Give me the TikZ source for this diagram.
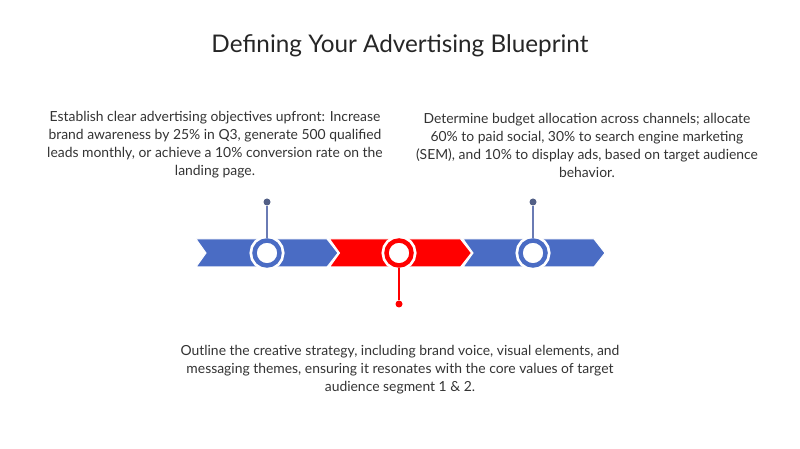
\documentclass[tikz,border=0pt]{standalone}
\usepackage{fontspec}
\setmainfont{Lato}
\usetikzlibrary{positioning}

\definecolor{bandblue}{HTML}{4A6CC4}
\definecolor{bandred}{HTML}{FF0000}
\definecolor{stemblue}{HTML}{6A7BB4}
\definecolor{dotblue}{HTML}{525F86}
\definecolor{textgrey}{HTML}{333333}

\begin{document}
\begin{tikzpicture}[x=1pt,y=1pt,
    ring/.style={circle,fill=white,line width=4.5pt,minimum size=25pt,inner sep=0pt,
        preaction={draw=white,line width=10pt}},
    pin/.style={circle,inner sep=0pt,minimum size=7pt},
    stem/.style={line width=1.2pt},
    blurb/.style={align=center,text=textgrey,font=\fontsize{13.9}{18}\selectfont}]

\useasboundingbox (0,0) rectangle (800,449);

% Title
\node[text=black!85,font=\fontsize{24.3}{28}\selectfont] (title) at (400,403) {Defining Your Advertising Blueprint};

% Arrow band
\foreach \x/\col in {196/bandblue,329.5/bandred,463/bandblue}
    \fill[\col,draw=white,line width=1pt] (\x,210) -- ++(131,0) -- ++(11,-14) -- ++(-11,-14)
        -- ++(-131,0) -- ++(10,14) -- cycle;

% Pins
\node[pin,fill=dotblue] (d1) at (267,247) {};
\node[pin,fill=bandred] (d2) at (399,145) {};
\node[pin,fill=dotblue] (d3) at (533,247) {};

% Rings
\node[ring,draw=bandblue] (c1) at (267,196) {};
\node[ring,draw=bandred] (c2) at (399,196) {};
\node[ring,draw=bandblue] (c3) at (533,196) {};

% Stems
\draw[stem,stemblue] (d1) -- (c1);
\draw[stem,bandred] (d2) -- (c2);
\draw[stem,stemblue] (d3) -- (c3);

% Texts
\node[blurb] (t1) at (215,304) {Establish clear advertising objectives upfront: Increase\\
    brand awareness by 25\% in Q3, generate 500 qualified\\
    leads monthly, or achieve a 10\% conversion rate on the\\
    landing page.};
\node[blurb] (t2) at (587,304) {Determine budget allocation across channels; allocate\\
    60\% to paid social, 30\% to search engine marketing\\
    (SEM), and 10\% to display ads, based on target audience\\
    behavior.};
\node[blurb] (t3) at (400,79) {Outline the creative strategy, including brand voice, visual elements, and\\
    messaging themes, ensuring it resonates with the core values of target\\
    audience segment 1 \& 2.};

\end{tikzpicture}
\end{document}
